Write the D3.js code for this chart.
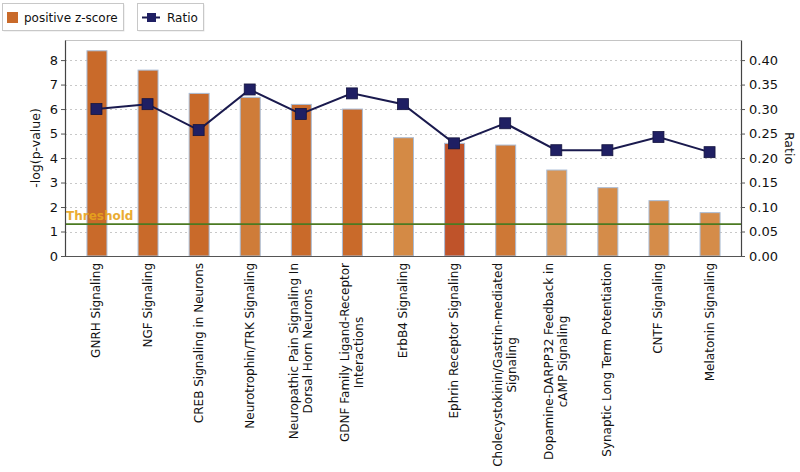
<!DOCTYPE html>
<html>
<head>
<meta charset="utf-8">
<script src="https://cdn.jsdelivr.net/npm/d3@7/dist/d3.min.js"></script>
<style>
  html, body { margin: 0; padding: 0; background: #fff; }
  svg { display: block; font-family: "DejaVu Sans", Verdana, sans-serif; }
</style>
</head>
<body>
<svg id="chart" width="800" height="472"></svg>
<script>
// ---------------- data ----------------
const categories = [
  "GNRH Signaling",
  "NGF Signaling",
  "CREB Signaling in Neurons",
  "Neurotrophin/TRK Signaling",
  "Neuropathic Pain Signaling In\nDorsal Horn Neurons",
  "GDNF Family Ligand-Receptor\nInteractions",
  "ErbB4 Signaling",
  "Ephrin Receptor Signaling",
  "Cholecystokinin/Gastrin-mediated\nSignaling",
  "Dopamine-DARPP32 Feedback in\ncAMP Signaling",
  "Synaptic Long Term Potentiation",
  "CNTF Signaling",
  "Melatonin Signaling"
];
const negLogP = [8.38, 7.59, 6.64, 6.48, 6.19, 6.0, 4.83, 4.6, 4.53, 3.51, 2.79, 2.26, 1.77];
const ratio   = [0.300, 0.310, 0.257, 0.340, 0.290, 0.332, 0.310, 0.230, 0.271, 0.216, 0.216, 0.243, 0.212];
// estimated relative z-score intensity (drives bar shade)
const zShade  = [0.75, 0.75, 0.75, 0.55, 0.75, 0.75, 0.40, 1.0, 0.6, 0.15, 0.35, 0.35, 0.35];
const leftTicks  = [0, 1, 2, 3, 4, 5, 6, 7, 8];
const rightTicks = [0, 0.05, 0.10, 0.15, 0.20, 0.25, 0.30, 0.35, 0.40];
const threshold = 1.3;
const legendLabels = ["positive z-score", "Ratio"];

// ---------------- layout ----------------
const svg = d3.select("#chart");
const L = 65, R = 741, T = 40, B = 256;

const x = d3.scaleBand().domain(d3.range(categories.length))
  .range([L, R]).paddingInner(0.609).paddingOuter(0.42);
const yL = d3.scaleLinear().domain([0, 8.82]).range([B, T]);
const yR = d3.scaleLinear().domain([0, 0.441]).range([B, T]);
const shade = d3.scaleLinear().domain([0, 0.4, 0.75, 1])
  .range(["#d99c62", "#d48a45", "#c96a2a", "#bf532a"]);

// frame top
svg.append("line").attr("x1", L).attr("x2", R).attr("y1", T + 0.5).attr("y2", T + 0.5)
  .attr("stroke", "#c4c4c4").attr("stroke-width", 1);

// gridlines
svg.append("g").selectAll("line").data(leftTicks.filter(d => d > 0)).join("line")
  .attr("x1", L).attr("x2", R)
  .attr("y1", d => Math.round(yL(d)) + 0.5).attr("y2", d => Math.round(yL(d)) + 0.5)
  .attr("stroke", "#c8c8c8").attr("stroke-width", 1.2).attr("stroke-dasharray", "2,3");

// bars
svg.append("g").selectAll("rect").data(negLogP).join("rect")
  .attr("x", (d, i) => x(i) + 0.5)
  .attr("y", d => yL(d))
  .attr("width", x.bandwidth())
  .attr("height", d => B - yL(d))
  .attr("fill", (d, i) => shade(zShade[i]))
  .attr("stroke", "#a9bcd6").attr("stroke-width", 1);

// threshold
svg.append("line").attr("x1", L).attr("x2", R)
  .attr("y1", yL(threshold)).attr("y2", yL(threshold))
  .attr("stroke", "#4b7a22").attr("stroke-width", 1.6);
svg.append("text").attr("x", L + 1).attr("y", yL(threshold) - 4)
  .attr("font-size", 12).attr("font-weight", "bold").attr("fill", "#e8a41c").attr("opacity", 0.9)
  .text("Threshold");

// ratio line
const line = d3.line().x((d, i) => x(i) + x.bandwidth() / 2).y(d => yR(d));
svg.append("path").datum(ratio).attr("d", line)
  .attr("fill", "none").attr("stroke", "#1a1a4e").attr("stroke-width", 2);
svg.append("g").selectAll("rect").data(ratio).join("rect")
  .attr("x", (d, i) => x(i) + x.bandwidth() / 2 - 5.5)
  .attr("y", d => yR(d) - 5.5)
  .attr("width", 11).attr("height", 11)
  .attr("fill", "#1f1f63").attr("stroke", "#14143f").attr("stroke-width", 0.8);

// axes
const axL = svg.append("g").attr("transform", `translate(${L},0)`)
  .call(d3.axisLeft(yL).tickValues(leftTicks).tickSize(4).tickSizeOuter(0).tickFormat(d3.format("d")));
const axR = svg.append("g").attr("transform", `translate(${R},0)`)
  .call(d3.axisRight(yR).tickValues(rightTicks).tickSize(4).tickSizeOuter(0).tickFormat(d3.format(".2f")));
[axL, axR].forEach(a => {
  a.select(".domain").attr("stroke", "#444").attr("stroke-width", 1.2);
  a.selectAll(".tick line").attr("stroke", "#555");
  a.selectAll(".tick text").attr("font-size", 13).attr("fill", "#111")
    .attr("font-family", "DejaVu Sans, Verdana, sans-serif");
});
axL.selectAll(".tick text").attr("x", -7);
axR.selectAll(".tick text").attr("x", 8);
// bottom axis line
svg.append("line").attr("x1", L).attr("x2", R).attr("y1", B + 0.5).attr("y2", B + 0.5)
  .attr("stroke", "#555").attr("stroke-width", 1.2);

// axis titles
svg.append("text").attr("transform", `translate(40,${(T + B) / 2}) rotate(-90)`)
  .attr("text-anchor", "middle").attr("font-size", 12.5).attr("fill", "#111")
  .text("-log(p-value)");
svg.append("text").attr("transform", `translate(785,${(T + B) / 2}) rotate(90)`)
  .attr("text-anchor", "middle").attr("font-size", 12.5).attr("fill", "#111")
  .text("Ratio");

// category labels (rotated, multiline centered)
const labTop = 263, lineH = 14;
const lg = svg.append("g");
categories.forEach((c, i) => {
  const lines = c.split("\n");
  const cx = x(i) + x.bandwidth() / 2;
  const g = lg.append("g");
  const texts = lines.map((ln, j) => g.append("text")
    .attr("font-size", 12).attr("fill", "#111").attr("text-anchor", "middle").text(ln));
  const maxLen = d3.max(texts, t => t.node().getComputedTextLength());
  texts.forEach((t, j) => {
    const off = (j - (lines.length - 1) / 2) * lineH;
    t.attr("transform", `translate(${cx + off + 4},${labTop + maxLen / 2}) rotate(-90)`);
  });
});

// legend
const leg = svg.append("g");
const boxes = [{x: 2.5, w: 121}, {x: 137.5, w: 66}];
boxes.forEach(b => {
  leg.append("rect").attr("x", b.x + 1).attr("y", 4.5).attr("width", b.w).attr("height", 27)
    .attr("fill", "#e6e6e6");
  leg.append("rect").attr("x", b.x).attr("y", 3.5).attr("width", b.w).attr("height", 27)
    .attr("fill", "#fff").attr("stroke", "#c8c8c8");
});
leg.append("rect").attr("x", 7).attr("y", 12).attr("width", 11).attr("height", 11)
  .attr("fill", shade(0.75));
leg.append("text").attr("x", 24).attr("y", 22).attr("font-size", 12).attr("fill", "#111")
  .text(legendLabels[0]);
leg.append("line").attr("x1", 142).attr("x2", 160).attr("y1", 17.5).attr("y2", 17.5)
  .attr("stroke", "#1a1a4e").attr("stroke-width", 2);
leg.append("rect").attr("x", 147).attr("y", 13).attr("width", 9).attr("height", 9)
  .attr("fill", "#1f1f63");
leg.append("text").attr("x", 167).attr("y", 22).attr("font-size", 12).attr("fill", "#111")
  .text(legendLabels[1]);
</script>
</body>
</html>
